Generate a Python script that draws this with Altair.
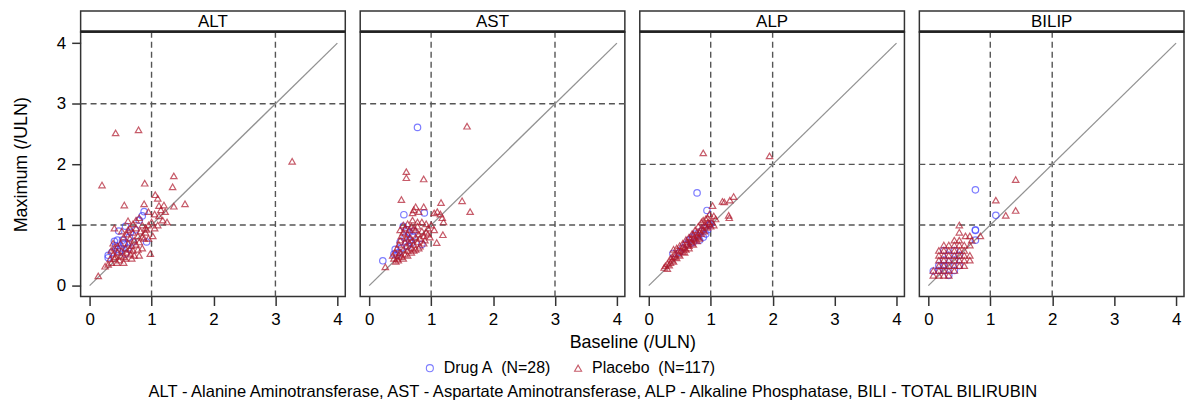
import altair as alt
import pandas as pd

PANELS = ["ALT", "AST", "ALP", "BILIP"]
REF_LINES = [[1, 3], [1, 3], [1, 2], [1, 2]]
TICKS = [0, 1, 2, 3, 4]
DIAG = [0, 4]
GROUPS = ["Drug A\u00a0 (N=28)", "Placebo\u00a0 (N=117)"]
FOOTNOTE = ("ALT - Alanine Aminotransferase, AST - Aspartate Aminotransferase, "
            "ALP - Alkaline Phosphatase, BILI - TOTAL BILIRUBIN")

# ---------------- ALT ----------------
ALT_DRUG_BASE = [0.88, 0.85, 0.58, 0.47, 0.45, 0.40, 0.53, 0.30, 0.30, 0.92, 0.64, 0.48,
                 0.55, 0.62, 0.70, 0.50, 0.42, 0.36, 0.74, 0.56, 0.66, 0.45, 0.58, 0.80]
ALT_DRUG_MAX = [1.22, 1.15, 0.98, 0.90, 0.75, 0.73, 0.75, 0.50, 0.46, 0.72, 0.80, 0.56,
                0.70, 0.62, 0.72, 0.62, 0.66, 0.55, 0.92, 0.68, 0.88, 0.60, 0.52, 1.08]
ALT_PBO_BASE = [0.42, 0.79, 3.27, 0.20, 0.89, 1.36, 1.34, 1.54, 1.36, 0.56, 0.88, 1.06, 1.10,
                0.14, 0.98, 0.80, 1.12, 1.15, 1.20, 1.05, 1.12, 1.18, 1.25, 1.10, 0.95, 1.00,
                0.95, 1.05, 0.92, 1.22, 0.80, 0.75, 0.70, 0.62, 0.40, 0.65, 0.85, 0.90,
                0.30, 0.25, 0.35, 0.40, 0.38, 0.42, 0.45, 0.50, 0.52, 0.55, 0.58, 0.60, 0.62,
                0.65, 0.68, 0.70, 0.72, 0.75, 0.78, 0.80, 0.82, 0.85, 0.88, 0.90, 0.55, 0.50,
                0.45, 0.40, 0.35, 0.60, 0.65, 0.70, 0.75, 0.48, 0.58, 0.66, 0.72, 0.38, 0.33,
                0.44, 0.52, 0.62, 0.78, 0.85, 0.95, 1.02, 0.68, 0.55]
ALT_PBO_MAX = [2.52, 2.57, 2.05, 1.66, 1.69, 1.81, 1.63, 1.35, 1.31, 1.33, 1.35, 1.50, 1.44,
               0.16, 0.53, 0.50, 1.32, 1.25, 1.33, 1.18, 1.15, 1.08, 1.05, 1.00, 1.22, 1.05,
               1.00, 0.95, 0.93, 1.22, 1.12, 1.08, 1.02, 1.07, 0.95, 0.95, 1.00, 0.88,
               0.35, 0.32, 0.38, 0.45, 0.52, 0.48, 0.55, 0.50, 0.58, 0.48, 0.62, 0.55, 0.70,
               0.60, 0.66, 0.58, 0.75, 0.68, 0.82, 0.72, 0.90, 0.80, 0.78, 0.95, 0.80, 0.70,
               0.65, 0.62, 0.58, 0.85, 0.78, 0.88, 0.95, 0.42, 0.45, 0.52, 0.50, 0.70, 0.44,
               0.38, 0.90, 0.92, 0.60, 0.62, 0.78, 0.82, 0.45, 0.38]

# ---------------- AST ----------------
AST_DRUG_BASE = [0.78, 0.56, 0.89, 0.22, 0.85, 0.55, 0.60, 0.65, 0.50, 0.42, 0.65, 0.58,
                 0.48, 0.70, 0.62, 0.45, 0.52, 0.72, 0.40, 0.68]
AST_DRUG_MAX = [2.61, 1.17, 1.20, 0.41, 0.68, 0.98, 0.92, 0.88, 0.72, 0.60, 0.75, 0.80,
                0.55, 0.82, 0.65, 0.50, 0.62, 0.90, 0.52, 0.70]
AST_PBO_BASE = [1.58, 0.60, 0.60, 0.88, 0.52, 1.50, 1.63, 1.16, 0.75, 0.72, 0.88, 0.80, 0.70,
                1.10, 1.05, 1.15, 1.18, 1.20, 0.26, 1.09, 1.19, 0.95, 1.00, 1.05, 0.92, 0.85,
                0.78, 0.70, 0.62, 0.55, 0.50,
                0.45, 0.48, 0.50, 0.52, 0.55, 0.58, 0.60, 0.62, 0.65, 0.68, 0.70, 0.72, 0.75,
                0.78, 0.80, 0.82, 0.85, 0.88, 0.90, 0.92, 0.95, 0.42, 0.45, 0.48, 0.50, 0.52,
                0.55, 0.58, 0.60, 0.62, 0.65, 0.68, 0.72, 0.75, 0.78, 0.40, 0.43, 0.47, 0.55,
                0.62, 0.68, 0.75, 0.82, 0.88, 0.98, 0.38, 0.58, 0.66, 0.72, 0.80]
AST_PBO_MAX = [2.63, 1.88, 1.78, 1.76, 1.42, 1.40, 1.22, 1.37, 1.30, 1.25, 1.30, 1.22, 1.20,
               1.22, 1.20, 1.18, 1.12, 1.05, 0.31, 0.71, 0.84, 0.95, 1.00, 0.92, 1.02, 1.05,
               1.05, 1.08, 1.02, 1.00, 0.92,
               0.45, 0.50, 0.55, 0.48, 0.60, 0.52, 0.65, 0.58, 0.70, 0.62, 0.75, 0.68, 0.80,
               0.72, 0.85, 0.78, 0.90, 0.82, 0.75, 0.88, 0.85, 0.55, 0.62, 0.68, 0.75, 0.82,
               0.88, 0.95, 0.78, 0.85, 0.92, 0.98, 0.95, 0.92, 0.98, 0.45, 0.40, 0.42, 0.45,
               0.50, 0.55, 0.60, 0.65, 0.70, 0.80, 0.50, 0.72, 0.80, 0.58, 0.62]

# ---------------- ALP ----------------
ALP_DRUG_BASE = [0.78, 0.94, 0.39, 0.70, 0.75, 0.80, 0.85, 0.90, 0.95, 0.65, 0.72, 0.82,
                 0.88, 0.60, 0.55, 0.98, 0.92, 0.68, 0.50, 1.00]
ALP_DRUG_MAX = [1.53, 1.24, 0.53, 0.80, 0.85, 0.82, 0.90, 0.95, 0.92, 0.75, 0.72, 0.75,
                0.80, 0.68, 0.62, 1.00, 0.85, 0.70, 0.55, 1.02]
ALP_PBO_BASE = [0.88, 1.95, 1.37, 1.31, 1.19, 1.22, 1.03, 1.29, 1.30, 0.25, 0.30, 0.27,
                0.35, 0.38, 0.40, 0.42, 0.45, 0.48, 0.50, 0.52, 0.55, 0.58, 0.60, 0.62, 0.65,
                0.68, 0.70, 0.72, 0.75, 0.78, 0.80, 0.82, 0.85, 0.88, 0.90, 0.92, 0.95, 0.98,
                1.00, 1.02, 1.05, 1.08, 0.40, 0.45, 0.50, 0.55, 0.60, 0.65, 0.70, 0.75, 0.80,
                0.85, 0.88, 0.92, 0.95, 0.98, 0.35, 0.42, 0.48, 0.55, 0.62, 0.68, 0.72, 0.78,
                0.85, 0.90, 0.58, 0.65, 0.72, 0.78, 0.82, 0.30, 0.33, 0.38, 1.05, 0.96]
ALP_PBO_MAX = [2.19, 2.14, 1.47, 1.41, 1.39, 1.38, 1.32, 1.16, 1.12, 0.30, 0.28, 0.33,
               0.38, 0.42, 0.40, 0.48, 0.46, 0.52, 0.50, 0.58, 0.56, 0.62, 0.60, 0.68, 0.66,
               0.72, 0.70, 0.78, 0.76, 0.82, 0.80, 0.88, 0.86, 0.92, 0.90, 0.98, 0.96, 1.02,
               0.98, 1.05, 1.00, 1.10, 0.60, 0.62, 0.66, 0.70, 0.76, 0.80, 0.86, 0.92, 0.98,
               1.05, 1.08, 1.10, 1.12, 1.18, 0.45, 0.52, 0.58, 0.64, 0.72, 0.78, 0.84, 0.88,
               0.95, 1.00, 0.55, 0.62, 0.68, 0.74, 0.78, 0.36, 0.34, 0.48, 1.15, 1.05]

# ---------------- BILIP ----------------
BILI_DRUG_BASE = [0.76, 1.09, 0.76, 0.76, 0.76, 0.08, 0.17, 0.25, 0.25, 0.33, 0.33, 0.42,
                  0.42, 0.17, 0.25, 0.50, 0.33, 0.42, 0.50, 0.25]
BILI_DRUG_MAX = [1.58, 1.16, 0.91, 0.92, 0.75, 0.24, 0.33, 0.42, 0.25, 0.33, 0.50, 0.42,
                 0.25, 0.25, 0.58, 0.50, 0.17, 0.58, 0.33, 0.33]
BILI_PBO_BASE = [1.41, 1.09, 1.25, 1.41, 0.50, 0.50, 0.60, 0.67, 0.70, 0.84, 0.58, 0.50,
                 0.42, 0.33, 0.25, 0.17, 0.17, 0.17, 0.17, 0.17, 0.17, 0.25, 0.25, 0.25, 0.25,
                 0.25, 0.25, 0.33, 0.33, 0.33, 0.33, 0.33, 0.33, 0.42, 0.42, 0.42, 0.42, 0.42,
                 0.42, 0.50, 0.50, 0.50, 0.50, 0.50, 0.58, 0.58, 0.58, 0.58, 0.67, 0.67, 0.08,
                 0.08, 0.67]
BILI_PBO_MAX = [1.75, 1.41, 1.16, 1.24, 1.00, 0.88, 0.82, 0.82, 0.75, 0.82, 0.67, 0.75,
                0.75, 0.67, 0.67, 0.58, 0.50, 0.42, 0.33, 0.25, 0.17, 0.58, 0.50, 0.42, 0.33,
                0.25, 0.17, 0.58, 0.50, 0.42, 0.33, 0.25, 0.17, 0.67, 0.58, 0.50, 0.42, 0.33,
                0.25, 0.67, 0.58, 0.50, 0.42, 0.33, 0.58, 0.50, 0.42, 0.33, 0.50, 0.42, 0.17,
                0.25, 0.67]

DATA = {
    "ALT": (ALT_DRUG_BASE, ALT_DRUG_MAX, ALT_PBO_BASE, ALT_PBO_MAX),
    "AST": (AST_DRUG_BASE, AST_DRUG_MAX, AST_PBO_BASE, AST_PBO_MAX),
    "ALP": (ALP_DRUG_BASE, ALP_DRUG_MAX, ALP_PBO_BASE, ALP_PBO_MAX),
    "BILIP": (BILI_DRUG_BASE, BILI_DRUG_MAX, BILI_PBO_BASE, BILI_PBO_MAX),
}

FONT = "Liberation Sans"
W, H = 266, 266
HEAD = 21
XDOM = [-0.145, 4.128]
YDOM = [-0.18, 4.186]
BLUE = "#4646FF"
RED = "#B0182C"

LEGEND = alt.Legend(title=None, orient="none", legendX=343, legendY=330,
                    direction="horizontal", labelFontSize=16, labelColor="black",
                    symbolSize=50, symbolStrokeWidth=1.1, columnPadding=18, labelOffset=6)


def panel(i, name):
    db, dm, pb, pm = DATA[name]
    pts = pd.DataFrame({
        "base": db + pb,
        "max": dm + pm,
        "group": [GROUPS[0]] * len(db) + [GROUPS[1]] * len(pb),
    })
    xs = alt.Scale(domain=XDOM, nice=False, zero=False)
    ys = alt.Scale(domain=YDOM, nice=False, zero=False)
    if i == 1:
        xaxis = alt.Axis(values=TICKS, title="Baseline (/ULN)", titleX=W + 7.5,
                         titlePadding=6, titleFontSize=18, titleFontWeight="normal",
                         titleColor="black")
    else:
        xaxis = alt.Axis(values=TICKS, title=None)
    if i == 0:
        yaxis = alt.Axis(values=TICKS, title="Maximum (/ULN)", titleFontSize=18,
                         titleFontWeight="normal", titleColor="black", titlePadding=26)
    else:
        yaxis = None

    vref = alt.Chart(pd.DataFrame({"v": REF_LINES[i]})).mark_rule(
        color="#555555", strokeDash=[6, 4], strokeWidth=1.4
    ).encode(x=alt.X("v:Q", scale=xs, axis=xaxis))
    href = alt.Chart(pd.DataFrame({"v": REF_LINES[i]})).mark_rule(
        color="#555555", strokeDash=[6, 4], strokeWidth=1.4
    ).encode(y=alt.Y("v:Q", scale=ys, axis=yaxis))
    diag = alt.Chart(pd.DataFrame({"d": DIAG})).mark_line(
        color="#929292", strokeWidth=1.3
    ).encode(x=alt.X("d:Q", scale=xs, axis=xaxis), y=alt.Y("d:Q", scale=ys, axis=yaxis))
    points = alt.Chart(pts).mark_point(filled=False, size=42, strokeWidth=1.2, opacity=0.7).encode(
        x=alt.X("base:Q", scale=xs, axis=xaxis),
        y=alt.Y("max:Q", scale=ys, axis=yaxis),
        color=alt.Color("group:N", scale=alt.Scale(domain=GROUPS, range=[BLUE, RED]),
                        legend=LEGEND),
        shape=alt.Shape("group:N", scale=alt.Scale(domain=GROUPS, range=["circle", "triangle-up"]),
                        legend=LEGEND),
    )
    hdr = pd.DataFrame({"p": [name]})
    head_box = alt.Chart(hdr).mark_rect(fill="white", stroke="#333333", strokeWidth=1.5).encode(
        x=alt.value(0), x2=alt.value(W), y=alt.value(-HEAD), y2=alt.value(0))
    head_line = alt.Chart(hdr).mark_rule(color="#222222", strokeWidth=2.5).encode(
        x=alt.value(0), x2=alt.value(W), y=alt.value(-0.5))
    head_text = alt.Chart(hdr).mark_text(fontSize=17, font=FONT, color="black").encode(
        x=alt.value(W / 2), y=alt.value(-HEAD / 2 + 0.5), text="p:N")

    return alt.layer(vref, href, diag, points, head_box, head_line, head_text).properties(
        width=W, height=H)


chart = alt.hconcat(*[panel(i, n) for i, n in enumerate(PANELS)], spacing=15,
                    bounds="flush").properties(
    padding={"left": 3, "top": 0, "right": 0, "bottom": 0},
    title=alt.TitleParams(text=FOOTNOTE, orient="bottom", anchor="middle", fontSize=16.6,
                          fontWeight="normal", font=FONT, color="black", offset=8, dx=-6),
).configure(font=FONT).configure_view(
    stroke="#333333", strokeWidth=1.5
).configure_axis(
    labelFontSize=17, labelColor="black", labelFont=FONT, titleFont=FONT,
    tickColor="#333333", tickSize=9, tickWidth=1.5, domain=False, grid=False,
    labelPadding=6
).configure_legend(labelFont=FONT)

chart.save("out.html", embed_options={"renderer": "svg", "actions": False})
